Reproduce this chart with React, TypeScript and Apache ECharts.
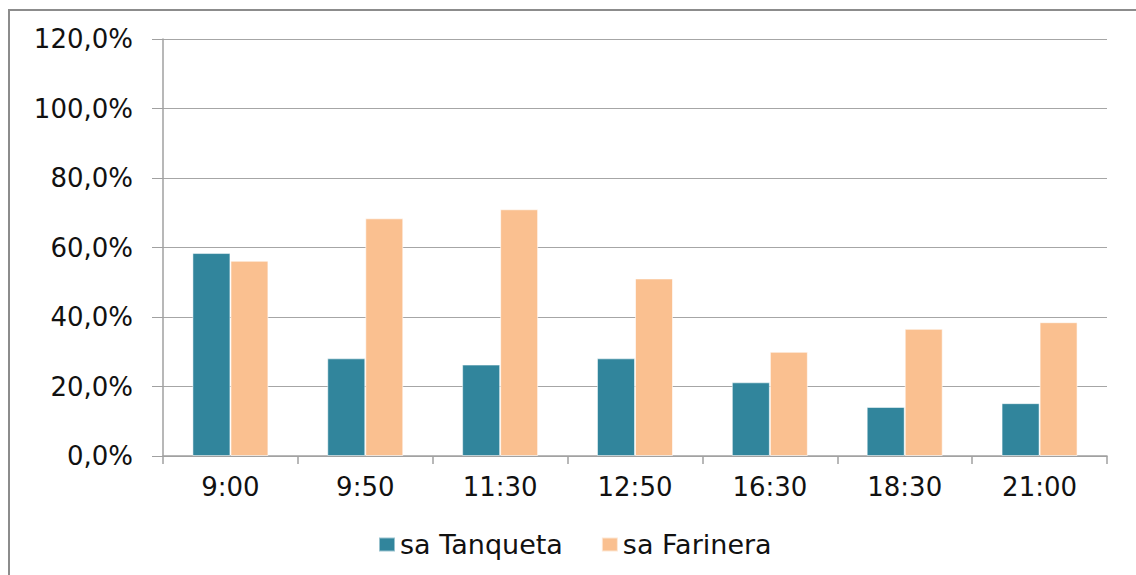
import React, { useEffect, useRef } from "react";
import * as echarts from "echarts";

const categories = ["9:00", "9:50", "11:30", "12:50", "16:30", "18:30", "21:00"];
const tanqueta = [58.4, 28.1, 26.3, 28.1, 21.2, 14.1, 15.2];
const farinera = [56.2, 68.4, 71.0, 51.1, 30.0, 36.6, 38.5];
const seriesNames = ["sa Tanqueta", "sa Farinera"];
const yTickValues = [0, 20, 40, 60, 80, 100, 120];
const yTickLabels = ["0,0%", "20,0%", "40,0%", "60,0%", "80,0%", "100,0%", "120,0%"];

const FONT = "'DejaVu Sans', 'Liberation Sans', Arial, sans-serif";

export default function App() {
  const ref = useRef<HTMLDivElement>(null);

  useEffect(() => {
    if (!ref.current) return;
    const chart = echarts.init(ref.current, undefined, { renderer: "svg" });
    chart.setOption({
      animation: false,
      backgroundColor: "#ffffff",
      textStyle: { fontFamily: FONT },
      graphic: [
        {
          type: "rect",
          shape: { x: 9, y: 10, width: 1300, height: 800 },
          style: { fill: "none", stroke: "#8c8c8c", lineWidth: 2 },
          silent: true,
        },
      ],
      legend: {
        data: seriesNames,
        left: 373,
        top: 526,
        itemWidth: 16,
        itemHeight: 14,
        itemGap: 38,
        icon: "rect",
        textStyle: { fontFamily: FONT, fontSize: 27, color: "#111" },
      },
      grid: { left: 163, right: 29, top: 39, bottom: 119, containLabel: false },
      xAxis: {
        type: "category",
        data: categories,
        axisLine: { show: true, lineStyle: { color: "#a0a0a0", width: 1.5 } },
        axisTick: { show: true, length: 8, lineStyle: { color: "#a0a0a0", width: 1.5 } },
        axisLabel: { fontFamily: FONT, fontSize: 26, color: "#111", margin: 18 },
      },
      yAxis: {
        type: "value",
        min: 0,
        max: 120,
        interval: 20,
        axisLine: { show: true, lineStyle: { color: "#a0a0a0", width: 1.5 } },
        axisTick: { show: true, length: 11, lineStyle: { color: "#a0a0a0", width: 1 } },
        splitLine: { show: true, lineStyle: { color: "#a6a6a6", width: 1 } },
        axisLabel: {
          fontFamily: FONT,
          fontSize: 26,
          color: "#111",
          margin: 30,
          formatter: (v: number) => {
            const i = yTickValues.indexOf(v);
            return i >= 0 ? yTickLabels[i] : "";
          },
        },
      },
      series: [
        {
          name: seriesNames[0],
          type: "bar",
          data: tanqueta,
          barWidth: 38,
          barGap: "0%",
          itemStyle: { color: "#31859c", borderColor: "rgba(255,255,255,0.5)", borderWidth: 1 },
        },
        {
          name: seriesNames[1],
          type: "bar",
          data: farinera,
          barWidth: 38,
          barGap: "0%",
          itemStyle: { color: "#fac090", borderColor: "rgba(255,255,255,0.6)", borderWidth: 1 },
        },
      ],
    });
    return () => chart.dispose();
  }, []);

  return (
    <div
      ref={ref}
      style={{ position: "absolute", left: 0, top: 0, width: 1136, height: 575 }}
    />
  );
}
